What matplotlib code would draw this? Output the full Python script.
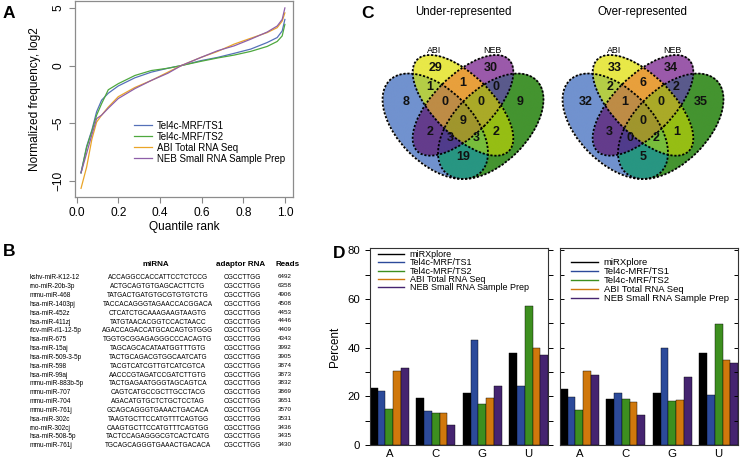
import numpy as np
import matplotlib
matplotlib.use('Agg')
import matplotlib.pyplot as plt
from matplotlib.patches import Ellipse
from matplotlib.colors import to_rgba
from matplotlib.ticker import MultipleLocator

plt.rcParams['font.family'] = ['Liberation Sans', 'DejaVu Sans']

W, H = 740, 462

##### panel A: quantile curves #####
quantile_rank = [0.02, 0.047, 0.072, 0.095, 0.119, 0.151, 0.199, 0.279, 0.358, 0.438,
                 0.502, 0.597, 0.677, 0.756, 0.836, 0.915, 0.963, 0.987, 1.0]
freq_ts1 = [-9.3, -7.0, -5.6, -4.0, -3.0, -2.4, -1.77, -1.06, -0.57, -0.23,
            0.0, 0.43, 0.71, 1.06, 1.43, 2.0, 2.43, 3.0, 4.0]
freq_ts2 = [-9.3, -7.1, -5.7, -4.3, -3.3, -2.1, -1.57, -0.86, -0.43, -0.23,
            0.0, 0.37, 0.66, 0.91, 1.23, 1.66, 2.09, 2.57, 3.57]
freq_abi = [-10.65, -8.8, -6.4, -4.9, -4.3, -3.6, -2.7, -1.9, -1.29, -0.57,
            0.0, 0.71, 1.23, 1.86, 2.37, 2.86, 3.29, 3.86, 4.57]
freq_neb = [-9.3, -7.6, -6.0, -4.6, -4.3, -3.7, -2.86, -2.0, -1.29, -0.66,
            0.0, 0.71, 1.29, 1.71, 2.29, 2.91, 3.43, 4.0, 5.0]
a_labels = ['Tel4c-MRF/TS1', 'Tel4c-MRF/TS2', 'ABI Total RNA Seq', 'NEB Small RNA Sample Prep']
a_colors = ['#5570b8', '#4ea83e', '#eaa528', '#8e5fa8']

##### panel B: table #####
mirna_names = ['kshv-miR-K12-12', 'rno-miR-20b-3p', 'mmu-miR-468', 'hsa-miR-1403pj',
               'hsa-miR-452z', 'hsa-miR-411zj', 'rlcv-miR-rl1-12-5p', 'hsa-miR-675',
               'hsa-miR-15aj', 'hsa-miR-509-3-5p', 'hsa-miR-598', 'hsa-miR-99aj',
               'mmu-miR-883b-5p', 'mmu-miR-707', 'mmu-miR-704', 'mmu-miR-761j',
               'hsa-miR-302c', 'rno-miR-302cj', 'hsa-miR-508-5p', 'mmu-miR-761j']
mirna_seqs = ['ACCAGGCCACCATTCCTCTCCG', 'ACTGCAGTGTGAGCACTTCTG', 'TATGACTGATGTGCGTGTGTCTG',
              'TACCACAGGGTAGAACCACGGACA', 'CTCATCTGCAAAGAAGTAAGTG', 'TATGTAACACGGTCCACTAACC',
              'AGACCAGACCATGCACAGTGTGGG', 'TGGTGCGGAGAGGGCCCACAGTG', 'TAGCAGCACATAATGGTTTGTG',
              'TACTGCAGACGTGGCAATCATG', 'TACGTCATCGTTGTCATCGTCA', 'AACCCGTAGATCCGATCTTGTG',
              'TACTGAGAATGGGTAGCAGTCA', 'CAGTCATGCCGCTTGCCTACG', 'AGACATGTGCTCTGCTCCTAG',
              'GCAGCAGGGTGAAACTGACACA', 'TAAGTGCTTCCATGTTTCAGTGG', 'CAAGTGCTTCCATGTTTCAGTGG',
              'TACTCCAGAGGGCGTCACTCATG', 'TGCAGCAGGGTGAAACTGACACA']
adaptor = 'CGCCTTGG'
reads = [6492, 6358, 4906, 4508, 4453, 4446, 4409, 4343, 3992, 3905,
         3874, 3873, 3832, 3869, 3651, 3570, 3531, 3436, 3435, 3430]

##### panel C: venn counts, membership order (TS1, ABI, NEB, TS2) #####
region_keys = [(1, 0, 0, 0), (0, 1, 0, 0), (0, 0, 1, 0), (0, 0, 0, 1),
               (1, 1, 0, 0), (0, 1, 1, 0), (0, 0, 1, 1), (1, 0, 0, 1),
               (1, 0, 1, 0), (0, 1, 0, 1),
               (1, 1, 1, 0), (0, 1, 1, 1), (1, 0, 1, 1), (1, 1, 0, 1),
               (1, 1, 1, 1)]
under_counts = [8, 29, 30, 9, 1, 1, 0, 19, 2, 2, 0, 0, 3, 3, 9]
over_counts = [32, 33, 34, 35, 2, 6, 2, 5, 3, 1, 1, 0, 0, 2, 0]
region_colors = ['#7192cf', '#e8e848', '#9b5aaa', '#449430',
                 '#b4cd46', '#e8a03c', '#5a5a8c', '#289682',
                 '#643c8c', '#96be14',
                 '#be8c46', '#aaaa28', '#503c8c', '#78be3c',
                 '#a0962d']
label_pos = [(0.19, 0.60), (0.35, 0.785), (0.65, 0.785), (0.81, 0.60),
             (0.32, 0.68), (0.5, 0.705), (0.68, 0.68), (0.5, 0.305),
             (0.32, 0.44), (0.68, 0.44),
             (0.40, 0.60), (0.60, 0.60), (0.43, 0.405), (0.57, 0.405),
             (0.5, 0.50)]
ell_centers = [(0.35, 0.47), (0.5, 0.583), (0.5, 0.583), (0.65, 0.47)]
ell_angles = [135, 135, 45, 45]
ell_a = [0.35, 0.35, 0.35, 0.35]
ell_b = [0.2, 0.16, 0.16, 0.2]

##### panel D: nucleotide composition #####
nucleotides = ['A', 'C', 'G', 'U']
d_labels = ['miRXplore', 'Tel4c-MRF/TS1', 'Tel4c-MRF/TS2', 'ABI Total RNA Seq',
            'NEB Small RNA Sample Prep']
d_colors = ['#000000', '#2c4a9a', '#3d8f1f', '#d0780c', '#452470']
# rows: method, cols: A C G U
under_pct = [[23.4, 19.3, 21.4, 37.7],
             [22.2, 13.9, 43.0, 24.4],
             [15.0, 13.1, 17.0, 57.2],
             [30.6, 13.1, 19.3, 39.9],
             [31.7, 8.3, 24.4, 36.8]]
over_pct = [[23.2, 18.9, 21.5, 37.9],
            [19.9, 21.4, 39.7, 20.4],
            [14.5, 18.8, 18.2, 49.7],
            [30.3, 17.5, 18.6, 35.0],
            [28.6, 12.4, 27.9, 33.7]]


def frac(x0, y0, x1, y1):
    """pixel box (top-left origin) -> figure fraction rect"""
    return [x0 / W, 1 - y1 / H, (x1 - x0) / W, (y1 - y0) / H]


fig = plt.figure(figsize=(W / 100, H / 100), dpi=100)

# ---------- A ----------
ax_a = fig.add_axes(frac(75, 1, 293, 197))
for y, lab, col in zip([freq_ts1, freq_ts2, freq_abi, freq_neb], a_labels, a_colors):
    ax_a.plot(quantile_rank, y, color=col, lw=0.9, label=lab)
ax_a.set_xlim(-0.009, 1.039)
ax_a.set_ylim(-11.4, 5.6)
ax_a.set_xticks(np.arange(0, 1.01, 0.2))
ax_a.set_xticklabels(['0.0', '0.2', '0.4', '0.6', '0.8', '1.0'])
ax_a.set_yticks([-10, -5, 0, 5])
ax_a.tick_params(axis='y', labelrotation=90)
for lbl in ax_a.get_yticklabels():
    lbl.set_va('center')
ax_a.tick_params(labelsize=8.6, color='#888888', length=4, width=0.8)
for s in ax_a.spines.values():
    s.set_color('#8c8c8c')
    s.set_linewidth(0.9)
ax_a.set_xlabel('Quantile rank', fontsize=8.6)
ax_a.set_ylabel('Normalized frequency, log2', fontsize=8.6)
ax_a.xaxis.set_label_coords(0.5, -0.12)
ax_a.yaxis.set_label_coords(-0.155, 0.5)
ax_a.legend(loc='lower left', bbox_to_anchor=(0.27, 0.17), frameon=False, fontsize=7,
            handlelength=1.85, handletextpad=0.5, labelspacing=0.1,
            borderpad=0, borderaxespad=0)

# ---------- B ----------
ax_b = fig.add_axes(frac(0, 222, 330, 462))
ax_b.set_xlim(0, 330)
ax_b.set_ylim(462, 222)
ax_b.axis('off')
ax_b.text(156, 265, 'miRNA', ha='center', va='center', fontsize=5.8, fontweight='bold')
ax_b.text(241, 265, 'adaptor RNA', ha='center', va='center', fontsize=5.8, fontweight='bold')
ax_b.text(288, 265, 'Reads', ha='center', va='center', fontsize=5.8, fontweight='bold')
row_y0, row_dy = 277.8, 8.84
for i, (nm, sq, rd) in enumerate(zip(mirna_names, mirna_seqs, reads)):
    y = row_y0 + i * row_dy
    ax_b.text(30, y, nm, ha='left', va='center', fontsize=4.7)
    ax_b.text(158, y, sq, ha='center', va='center', fontsize=4.7)
    ax_b.text(242, y, adaptor, ha='center', va='center', fontsize=4.7)
    ax_b.text(285, y - 1, str(rd), ha='center', va='center', fontsize=4.5)


# ---------- C ----------
def venn_panel(ax, counts, title):
    gx, gy = np.meshgrid(np.linspace(0, 1, 700), np.linspace(0, 1, 700))
    inside = []
    for (cx, cy), ang, ea, eb in zip(ell_centers, ell_angles, ell_a, ell_b):
        t = np.deg2rad(ang)
        dx, dy = gx - cx, gy - cy
        u = dx * np.cos(t) + dy * np.sin(t)
        v = -dx * np.sin(t) + dy * np.cos(t)
        inside.append((u / ea) ** 2 + (v / eb) ** 2 <= 1)
    img = np.zeros(gx.shape + (4,))
    for key, col in zip(region_keys, region_colors):
        m = np.ones(gx.shape, bool)
        for k, ins in zip(key, inside):
            m &= ins if k else ~ins
        img[m] = to_rgba(col)
    ax.imshow(img, extent=(0, 1, 0, 1), origin='lower', aspect='auto',
              interpolation='bilinear')
    for (cx, cy), ang, ea, eb in zip(ell_centers, ell_angles, ell_a, ell_b):
        ax.add_patch(Ellipse((cx, cy), 2 * ea, 2 * eb, angle=ang, fill=False,
                             ls=(0, (1.2, 1.0)), lw=1.3, ec='black'))
    for n, (lx, ly) in zip(counts, label_pos):
        ax.text(lx, ly, str(n), ha='center', va='center', fontsize=9,
                fontweight='bold', color='#111111')
    ax.text(0.345, 0.879, 'ABI', ha='center', va='center', fontsize=6.4)
    ax.text(0.66, 0.879, 'NEB', ha='center', va='center', fontsize=6.4)
    ax.text(0.5, 1.087, title, ha='center', va='center', fontsize=8.3, clip_on=False)
    ax.set_xlim(0, 1)
    ax.set_ylim(0, 1)
    ax.axis('off')


ax_cu = fig.add_axes(frac(370.5, 28.2, 555.5, 213.2))
venn_panel(ax_cu, under_counts, 'Under-represented')
ax_co = fig.add_axes(frac(550.5, 28.2, 735.5, 213.2))
venn_panel(ax_co, over_counts, 'Over-represented')


# ---------- D ----------
def bar_panel(ax, pct, show_left, leg_anchor, leg_spacing, leg_size):
    for j, (vals, col, lab) in enumerate(zip(pct, d_colors, d_labels)):
        xs = [1 + g * 6 + j + 0.5 for g in range(len(nucleotides))]
        ax.bar(xs, vals, width=1.0, color=col, edgecolor='black', linewidth=0.3)
        ax.plot([], [], color=col, lw=1.0, label=lab)
    ax.set_xlim(1, 24)
    ax.set_ylim(0, 81)
    ax.set_xticks([1 + g * 6 + 2.5 for g in range(len(nucleotides))])
    ax.set_xticklabels(nucleotides)
    ax.tick_params(axis='x', length=0, pad=3, labelsize=8.2)
    ax.yaxis.set_major_locator(MultipleLocator(20))
    ax.yaxis.set_minor_locator(MultipleLocator(10))
    if show_left:
        ax.tick_params(axis='y', which='both', direction='out', length=3.5,
                       labelsize=8.2, right=True, width=0.7)
        ax.set_ylabel('Percent', fontsize=8.4)
        ax.yaxis.set_label_coords(-0.163, 0.5)
    else:
        ax.tick_params(axis='y', which='both', direction='in', length=3,
                       labelleft=False, right=True, width=0.7)
    for s in ax.spines.values():
        s.set_linewidth(0.8)
        s.set_color('#333333')
    ax.legend(loc='upper left', bbox_to_anchor=leg_anchor, frameon=False, fontsize=leg_size,
              handlelength=2.9, handletextpad=0.6, labelspacing=leg_spacing,
              borderpad=0, borderaxespad=0)


ax_dl = fig.add_axes(frac(370, 248, 548, 445))
bar_panel(ax_dl, under_pct, True, (0.045, 0.99), -0.07, 6.5)
ax_dr = fig.add_axes(frac(560, 248, 738, 445))
bar_panel(ax_dr, over_pct, False, (0.06, 0.95), 0.0, 6.8)

# panel letters
for letter, (x, y) in zip('ABCD', [(9, 14), (9, 252), (367, 13), (339, 254)]):
    fig.text(x / W, 1 - y / H, letter, ha='center', va='center',
             fontsize=12.5, fontweight='bold')

fig.savefig('out.png', dpi=100)
